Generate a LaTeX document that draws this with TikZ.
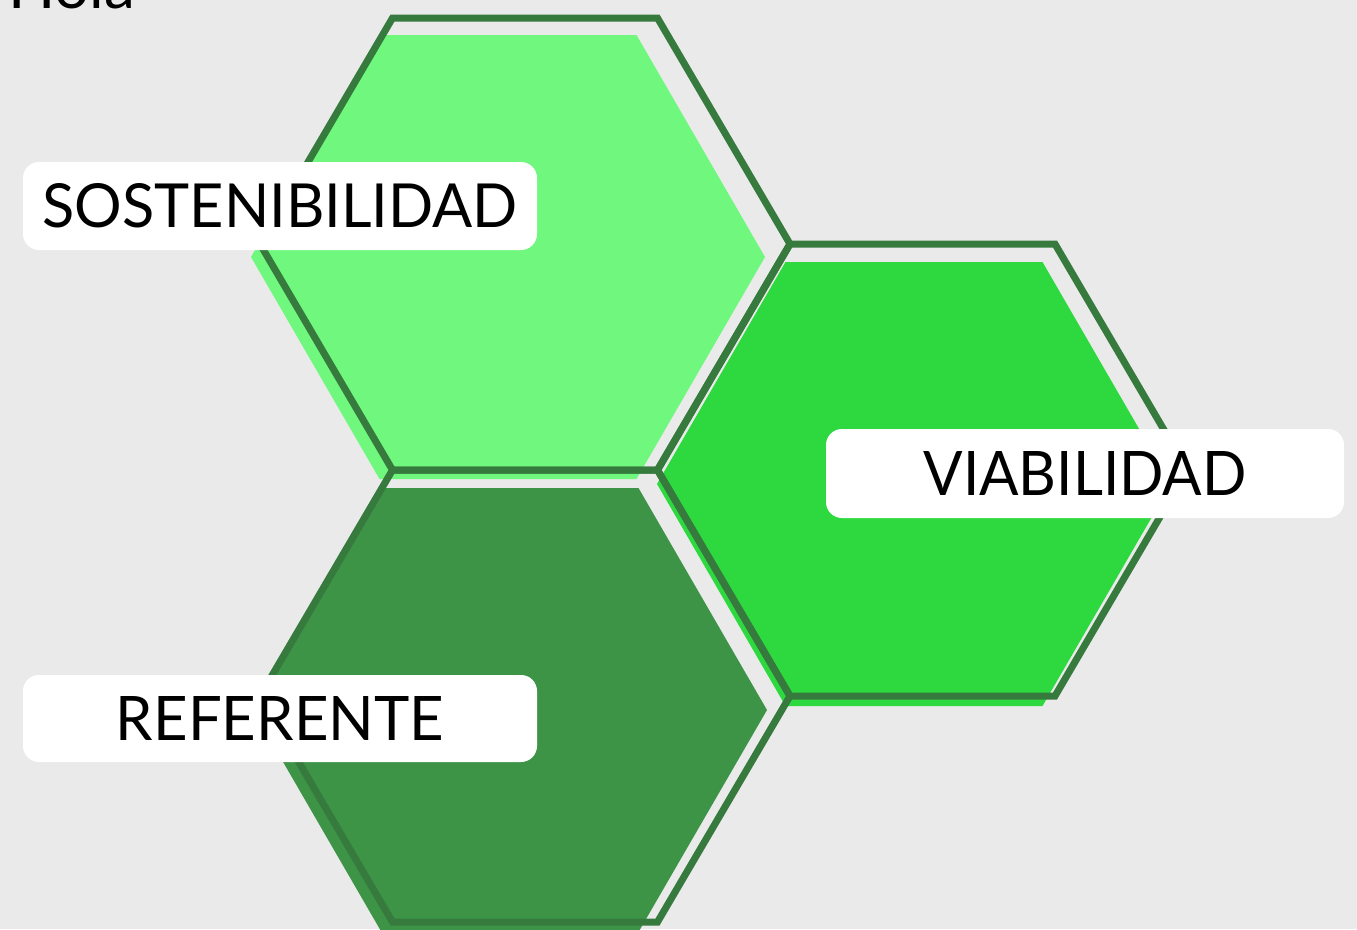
\documentclass[tikz,border=0pt]{standalone}
\usepackage{fontspec}
\setmainfont{Lato}
\usepackage{graphicx}
\definecolor{paper}{HTML}{EAEAEA}
\definecolor{lightg}{HTML}{70F87E}
\definecolor{brightg}{HTML}{2ED940}
\definecolor{midg}{HTML}{3D9446}
\definecolor{edgeg}{HTML}{367A3E}
\newcommand\myhex[4]{({#1-#3},{#2}) -- ({#1-#3/2},{#2-#4}) -- ({#1+#3/2},{#2-#4}) -- ({#1+#3},{#2}) -- ({#1+#3/2},{#2+#4}) -- ({#1-#3/2},{#2+#4}) -- cycle}
\tikzset{
  hexedge/.style={draw=edgeg, line width=7pt, line join=miter},
  labelbox/.style={fill=white, rounded corners=16pt, inner sep=0pt, text=black},
}
\begin{document}
\begin{tikzpicture}[x=1pt,y=-1pt]
\useasboundingbox (0,0) rectangle (1357,929);
\fill[paper] (0,0) rectangle (1357,929);
\begin{scope}
\clip (0,0) rectangle (1357,929);
% fills
\fill[lightg] \myhex{508}{257}{257}{222};
\fill[brightg] \myhex{914}{484}{257}{222};
\fill[midg] \myhex{510}{710}{257}{222};
% outlines
\path[hexedge] \myhex{525}{244}{265}{226};
\path[hexedge] \myhex{922.5}{470}{265}{226};
\path[hexedge] \myhex{525}{696}{265}{226};
% clipped heading
\node[anchor=base west, inner sep=0pt, font=\fontsize{62}{62}\selectfont] (hola) at (8,8) {Hola};
\end{scope}
% labels
\node[labelbox, minimum width=514pt, minimum height=88pt] (sost) at (280,206)
  {\resizebox{475pt}{44pt}{SOSTENIBILIDAD}};
\node[labelbox, minimum width=518pt, minimum height=89pt] (viab) at (1085,473.5)
  {\resizebox{323pt}{44pt}{VIABILIDAD}};
\node[labelbox, minimum width=514pt, minimum height=87pt] (refe) at (280,718.5)
  {\resizebox{328pt}{44pt}{REFERENTE}};
\end{tikzpicture}
\end{document}
